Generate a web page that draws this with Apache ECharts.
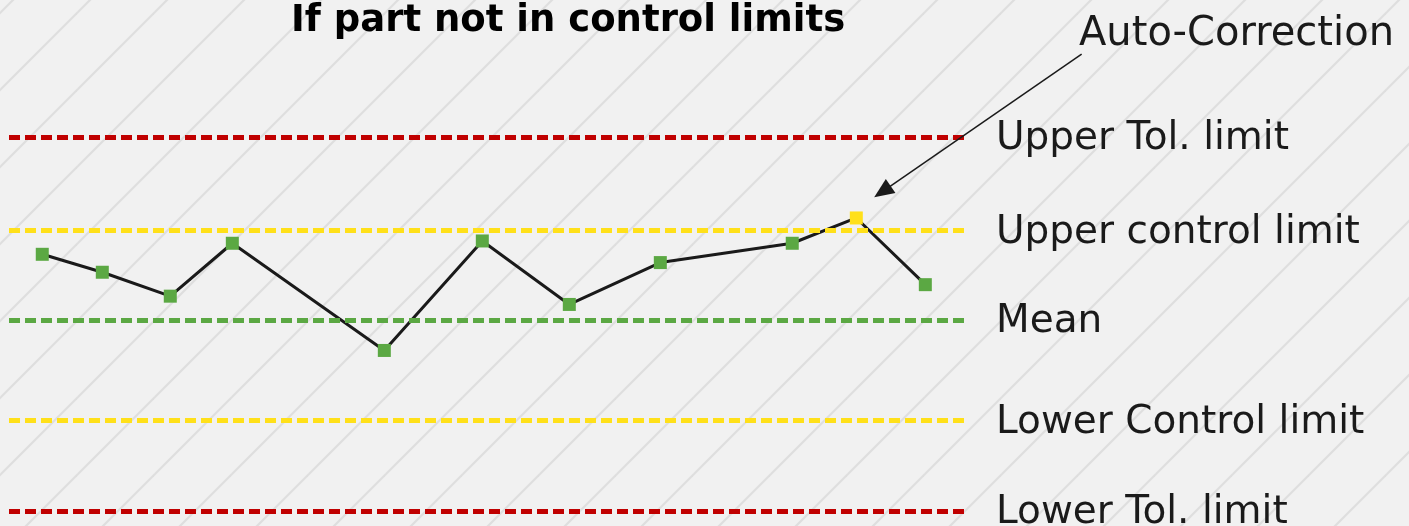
<!DOCTYPE html>
<html>
<head>
<meta charset="utf-8">
<script src="https://cdn.jsdelivr.net/npm/echarts@6/dist/echarts.min.js"></script>
<style>
  html, body { margin: 0; padding: 0; background: #f1f1f1; }
  #chart { width: 1409px; height: 526px; background-color: #f1f1f1; }
</style>
</head>
<body>
<div id="chart"></div>
<script>
// ---- data ----
const titleText = 'If part not in control limits';
const annotationText = 'Auto-Correction';
const samplePos = [3.48, 9.76, 16.87, 23.36, 39.26, 49.51, 58.61, 68.13, 81.93, 88.63, 95.85];
const sampleValues = [1.43, 1.04, 0.52, 1.67, -0.66, 1.72, 0.34, 1.25, 1.67, 2.22, 0.77];
const flaggedIndex = [9];
const limitNames = ['Upper Tol. limit', 'Upper control limit', 'Mean', 'Lower Control limit', 'Lower Tol. limit'];
const limitValues = [3.98, 1.95, 0, -2.18, -4.15];
const limitColors = ['#c00000', '#ffe01a', '#5ba843', '#ffe01a', '#c00000'];
const arrowFrom = [112.2, 5.78];
const arrowTo = [90.5, 2.67];

// ---- hatched background ----
(function () {
  const t = 77;
  const c = document.createElement('canvas');
  c.width = t; c.height = t;
  const g = c.getContext('2d');
  g.fillStyle = '#f1f1f1';
  g.fillRect(0, 0, t, t);
  g.strokeStyle = '#dedede';
  g.lineWidth = 2.2;
  [13, 90, 13 - t, 90 + t].forEach(function (k) {
    g.beginPath();
    g.moveTo(k + 3, -3);
    g.lineTo(k - 3, 3);
    g.lineTo(k - t - 3, t + 3);
    g.stroke();
  });
  document.getElementById('chart').style.backgroundImage = 'url(' + c.toDataURL() + ')';
})();

const chart = echarts.init(document.getElementById('chart'), null, { renderer: 'canvas' });

const FONT = 'DejaVu Sans';

const points = samplePos.map(function (x, i) {
  const item = { value: [x, sampleValues[i]] };
  if (flaggedIndex.indexOf(i) >= 0) item.itemStyle = { color: '#ffe01a' };
  return item;
});

const option = {
  backgroundColor: 'transparent',
  animation: false,
  title: [
    {
      text: titleText,
      left: 291, top: 3, padding: 0,
      textStyle: { fontFamily: FONT, fontWeight: 'bold', fontSize: 37, color: '#000' }
    },
    {
      text: annotationText,
      left: 1079, top: 15, padding: 0,
      textStyle: { fontFamily: FONT, fontWeight: 'normal', fontSize: 40, color: '#1a1a1a' }
    }
  ],
  grid: { left: 9, right: 444, top: 137, bottom: 15 },
  xAxis: {
    type: 'value', min: 0, max: 100,
    axisLine: { show: false }, axisTick: { show: false },
    axisLabel: { show: false }, splitLine: { show: false }
  },
  yAxis: {
    type: 'value', min: -4.15, max: 3.98,
    axisLine: { show: false }, axisTick: { show: false },
    axisLabel: { show: false }, splitLine: { show: false }
  },
  series: [
    {
      type: 'line',
      name: 'samples',
      z: 2,
      clip: false,
      data: points,
      symbol: 'rect',
      symbolSize: 13,
      itemStyle: { color: '#5ba843' },
      lineStyle: { color: '#1a1a1a', width: 3 }
    },
    {
      type: 'line',
      name: 'limits',
      z: 3,
      clip: false,
      data: [],
      markLine: {
        silent: true,
        symbol: 'none',
        label: {
          show: true, position: 'end', distance: 31,
          formatter: '{b}',
          fontFamily: FONT, fontSize: 39, color: '#1a1a1a',
          offset: [0, 2]
        },
        data: limitValues.map(function (v, i) {
          return {
            name: limitNames[i], yAxis: v,
            lineStyle: { color: limitColors[i], width: 5, type: [11, 5], opacity: 1 }
          };
        })
      }
    }
  ]
};

chart.setOption(option);

// ---- annotation arrow (positioned through the chart's own scales) ----
(function () {
  const p1 = chart.convertToPixel({ gridIndex: 0 }, arrowFrom);
  const p2 = chart.convertToPixel({ gridIndex: 0 }, arrowTo);
  const dx = p2[0] - p1[0], dy = p2[1] - p1[1];
  const len = Math.sqrt(dx * dx + dy * dy);
  const ux = dx / len, uy = dy / len;
  const headLen = 20, headHalf = 8.5;
  const bx = p2[0] - ux * headLen, by = p2[1] - uy * headLen;
  const nx = -uy, ny = ux;
  chart.setOption({
    graphic: [
      {
        type: 'line', silent: true, z: 10,
        shape: { x1: p1[0], y1: p1[1], x2: bx + ux * 2, y2: by + uy * 2 },
        style: { stroke: '#1a1a1a', lineWidth: 1.5 }
      },
      {
        type: 'polygon', silent: true, z: 10,
        shape: { points: [[p2[0], p2[1]], [bx + nx * headHalf, by + ny * headHalf], [bx - nx * headHalf, by - ny * headHalf]] },
        style: { fill: '#1a1a1a' }
      }
    ]
  });
})();
</script>
</body>
</html>
